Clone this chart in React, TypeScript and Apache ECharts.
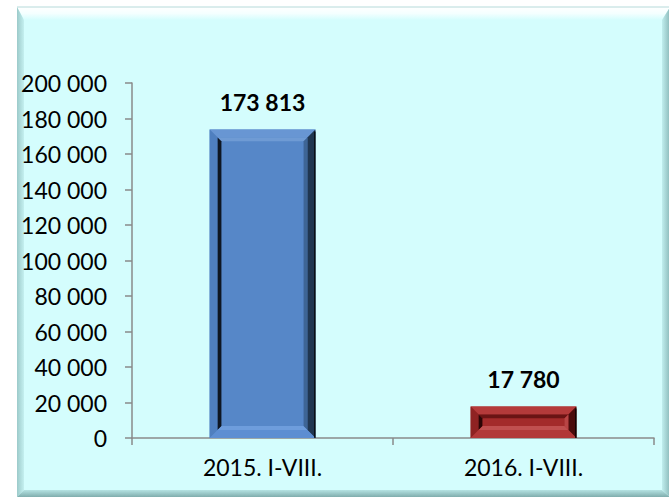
import React, { useEffect, useRef } from "react";
import * as echarts from "echarts";

const categories: string[] = ["2015. I-VIII.", "2016. I-VIII."];
const values: number[] = [173813, 17780];
const yMin = 0;
const yMax = 200000;
const yInterval = 20000;

const fmt = (v: number) => String(v).replace(/\B(?=(\d{3})+(?!\d))/g, " ");

const palettes = [
  { base: "#5687c8", top: "#6896d3", left: "#4f7fbf", right: "#203650", bottom: "#5d8ed2", gTop: "#6f9bd4", gLeft: "#0e1622", gRight: "#3e6595", gBottom: "#6e9ddc" },
  { base: "#a32b2b", top: "#b43a3a", left: "#8f2222", right: "#4a0c0c", bottom: "#b23838", gTop: "#6a1414", gLeft: "#2a0505", gRight: "#b84545", gBottom: "#c05050" },
];

export default function App() {
  const ref = useRef<HTMLDivElement>(null);
  useEffect(() => {
    document.body.style.margin = "0";
    const chart = echarts.init(ref.current!, null, { renderer: "svg" });
    const font = "Lato";
    const fx0 = 17, fy0 = 7, fx1 = 670, fy1 = 497;
    chart.setOption({
      animation: false,
      backgroundColor: "#ffffff",
      textStyle: { fontFamily: font },
      graphic: [
        { type: "rect", z: -10, shape: { x: fx0, y: fy0, width: fx1 - fx0, height: fy1 - fy0 }, style: { fill: "#d4fdfd" } },
        {
          type: "polygon", z: -9,
          shape: { points: [[fx0, fy0], [fx1, fy0], [fx1 - 8, fy0 + 13], [fx0 + 7, fy0 + 13]] },
          style: { fill: new echarts.graphic.LinearGradient(0, 0, 0, 1, [{ offset: 0, color: "#ffffff" }, { offset: 0.5, color: "#f4ffff" }, { offset: 1, color: "#d4fdfd" }]) },
        },
        {
          type: "polygon", z: -9,
          shape: { points: [[fx0, fy0], [fx0 + 7, fy0 + 13], [fx0 + 7, fy1 - 7], [fx0, fy1]] },
          style: { fill: new echarts.graphic.LinearGradient(0, 0, 1, 0, [{ offset: 0, color: "#9ccaca" }, { offset: 1, color: "#c4f0f0" }]) },
        },
        {
          type: "polygon", z: -9,
          shape: { points: [[fx0, fy1], [fx0 + 7, fy1 - 7], [fx1 - 8, fy1 - 7], [fx1, fy1]] },
          style: { fill: new echarts.graphic.LinearGradient(0, 0, 0, 1, [{ offset: 0, color: "#b4e2e2" }, { offset: 1, color: "#7fadad" }]) },
        },
        {
          type: "polygon", z: -9,
          shape: { points: [[fx1, fy0], [fx1, fy1], [fx1 - 8, fy1 - 7], [fx1 - 8, fy0 + 13]] },
          style: { fill: new echarts.graphic.LinearGradient(0, 0, 1, 0, [{ offset: 0, color: "#c0eeee" }, { offset: 1, color: "#8cbaba" }]) },
        },
        { type: "line", z: -8, shape: { x1: fx0, y1: fy0, x2: fx1, y2: fy0 }, style: { stroke: "#b5dada", lineWidth: 1 } },
      ],
      grid: { left: 132, right: 15, top: 83, bottom: 60, containLabel: false },
      xAxis: {
        type: "category",
        data: categories,
        axisLine: { show: true, lineStyle: { color: "#8a8a8a", width: 1.5 } },
        axisTick: { show: true, alignWithLabel: false, length: 7, lineStyle: { color: "#8a8a8a", width: 1.5 } },
        axisLabel: { color: "#000", fontSize: 23, fontFamily: font, margin: 17 },
      },
      yAxis: {
        type: "value",
        min: yMin,
        max: yMax,
        interval: yInterval,
        axisLine: { show: true, lineStyle: { color: "#8a8a8a", width: 1.5 } },
        axisTick: { show: true, length: 7, lineStyle: { color: "#8a8a8a", width: 1.5 } },
        splitLine: { show: false },
        axisLabel: { color: "#000", fontSize: 23, fontFamily: font, margin: 25, formatter: (v: number) => fmt(v) },
      },
      series: [
        {
          type: "bar",
          data: values.map((v, i) => ({ value: v, itemStyle: { color: palettes[i].base } })),
          barWidth: "40.5%",
          z: 2,
          label: {
            show: true,
            position: "top",
            distance: 16,
            color: "#000",
            fontWeight: "bold",
            fontSize: 23,
            fontFamily: font,
            formatter: (p: any) => fmt(p.value),
          },
        },
        {
          type: "custom",
          z: 3,
          silent: true,
          data: values.map((v, i) => [i, v]),
          renderItem: (params: any, api: any) => {
            const idx = api.value(0);
            const v = api.value(1);
            const p = palettes[idx];
            const t = api.coord([idx, v]);
            const b = api.coord([idx, 0]);
            const w = api.size([1, 0])[0] * 0.405;
            const x0 = t[0] - w / 2, x1 = t[0] + w / 2, y0 = t[1], y1 = b[1];
            const o = 8;
            const g = 4;
            const ix0 = x0 + o, ix1 = x1 - o, iy0 = y0 + o, iy1 = y1 - o;
            const jx0 = ix0 + g, jx1 = ix1 - g, jy0 = iy0 + g, jy1 = iy1 - g;
            const poly = (pts: number[][], fill: string) => ({ type: "polygon", shape: { points: pts }, style: { fill } });
            return {
              type: "group",
              children: [
                poly([[x0, y0], [x1, y0], [ix1, iy0], [ix0, iy0]], p.top),
                poly([[x0, y0], [ix0, iy0], [ix0, iy1], [x0, y1]], p.left),
                poly([[x1, y0], [x1, y1], [ix1, iy1], [ix1, iy0]], p.right),
                poly([[x0, y1], [ix0, iy1], [ix1, iy1], [x1, y1]], p.bottom),
                poly([[ix0, iy0], [ix1, iy0], [jx1, jy0], [jx0, jy0]], p.gTop),
                poly([[ix0, iy0], [jx0, jy0], [jx0, jy1], [ix0, iy1]], p.gLeft),
                poly([[ix1, iy0], [ix1, iy1], [jx1, jy1], [jx1, jy0]], p.gRight),
                poly([[ix0, iy1], [jx0, jy1], [jx1, jy1], [ix1, iy1]], p.gBottom),
                { type: "rect", shape: { x: jx0, y: jy0, width: Math.max(0, jx1 - jx0), height: Math.max(0, jy1 - jy0) }, style: { fill: p.base } },
                { type: "line", shape: { x1: x1 - 0.5, y1: y0 + 2, x2: x1 - 0.5, y2: y1 }, style: { stroke: "#000", lineWidth: 1.5, opacity: 0.8 } },
              ],
            };
          },
        },
      ],
    });
    return () => chart.dispose();
  }, []);
  return <div ref={ref} style={{ width: 669, height: 498 }} />;
}
